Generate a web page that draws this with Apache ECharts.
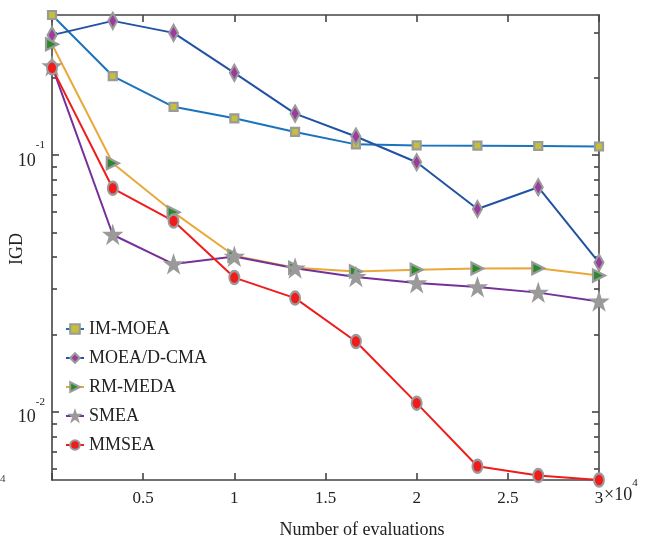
<!DOCTYPE html>
<html>
<head>
<meta charset="utf-8">
<script src="https://cdn.jsdelivr.net/npm/echarts@6/dist/echarts.min.js"></script>
<style>html,body{margin:0;padding:0;background:#fff}#c{width:648px;height:540px}</style>
</head>
<body>
<div id="c"></div>
<script>
const evaluations = [0, 3333, 6667, 10000, 13333, 16667, 20000, 23333, 26667, 30000];
const imMoea   = [0.351, 0.203, 0.154, 0.139, 0.123, 0.110, 0.109, 0.1087, 0.1084, 0.1079];
const moeadCma = [0.293, 0.333, 0.299, 0.209, 0.145, 0.118, 0.0937, 0.0616, 0.0749, 0.0381];
const rmMeda   = [0.270, 0.0928, 0.0598, 0.0405, 0.0364, 0.0352, 0.0357, 0.0361, 0.0362, 0.0339];
const smea     = [0.222, 0.0489, 0.0376, 0.0402, 0.0362, 0.0335, 0.0317, 0.0306, 0.0291, 0.0269];
const mmsea    = [0.2185, 0.0742, 0.0553, 0.0333, 0.0277, 0.01877, 0.0108, 0.00613, 0.00564, 0.00542];
const seriesNames = ['IM-MOEA', 'MOEA/D-CMA', 'RM-MEDA', 'SMEA', 'MMSEA'];
const yMajorTicks = [0.01, 0.1];
const yMinorTicks = [0.006, 0.007, 0.008, 0.009, 0.02, 0.03, 0.04, 0.05, 0.06, 0.07, 0.08, 0.09, 0.2, 0.3];
const yLabels = {0.01: '-2', 0.1: '-1'};
const xMin = 0, xMax = 30000, xStep = 5000;
const yMin = 0.00542, yMax = 0.351;

const FONT = "'Liberation Serif', 'Times New Roman', serif";
const AX = '#444';
const STAR = 'path://M50,0 L61.8,35.1 L98.8,35.1 L68.8,57 L80.2,92.1 L50,70.5 L19.8,92.1 L31.2,57 L1.2,35.1 L38.2,35.1 Z';

function pairs(ys) { return evaluations.map((x, i) => [x, ys[i]]); }

const lineAxisStyle = {show: true, lineStyle: {color: AX, width: 1.6}};
function yAx(pos, ticks, len, showLine, labels) {
  return {
    type: 'log', logBase: 10, position: pos, min: yMin, max: yMax,
    axisLine: showLine ? lineAxisStyle : {show: false},
    axisTick: {show: true, inside: true, length: len, customValues: ticks, lineStyle: {color: AX, width: 1.6}},
    axisLabel: labels ? {
      show: true, customValues: yMajorTicks, margin: 7, fontFamily: FONT,
      formatter: v => '{b|10}{s|' + (yLabels[v] || '') + '}',
      rich: {
        b: {fontSize: 18, fontFamily: FONT, color: '#222', lineHeight: 30, verticalAlign: 'bottom'},
        s: {fontSize: 11, fontFamily: FONT, color: '#222', lineHeight: 12, verticalAlign: 'top'}
      }
    } : {show: false},
    splitLine: {show: false}
  };
}
function xAx(pos, labels) {
  return {
    type: 'value', position: pos, min: xMin, max: xMax, interval: xStep,
    axisLine: lineAxisStyle,
    axisTick: {show: true, inside: true, length: 7, lineStyle: {color: AX, width: 1.6}},
    axisLabel: labels ? {
      show: true, margin: 10, fontFamily: FONT, fontSize: 17, color: '#222',
      formatter: v => v === 0 ? '' : String(v / 10000)
    } : {show: false},
    splitLine: {show: false}
  };
}

const styles = [
  {line: '#1a73bd', symbol: 'rect', size: 8, fill: '#c6bf3a', rot: 0},
  {line: '#2152a3', symbol: 'diamond', size: [9, 16], fill: '#9c3a9f', rot: 0},
  {line: '#e8a93a', symbol: 'triangle', size: [12, 12], fill: '#2a8a2a', rot: -90},
  {line: '#75309a', symbol: STAR, size: 15, fill: '#9a9a9a', rot: 0},
  {line: '#f01c1c', symbol: 'circle', size: [10, 13], fill: '#f01c1c', rot: 0}
];
const datasets = [imMoea, moeadCma, rmMeda, smea, mmsea];

const series = datasets.map((d, i) => ({
  name: seriesNames[i], type: 'line', data: pairs(d), clip: false,
  symbol: styles[i].symbol, symbolSize: styles[i].size, symbolRotate: styles[i].rot,
  showAllSymbol: true,
  lineStyle: {color: styles[i].line, width: 2},
  itemStyle: {color: styles[i].fill, borderColor: '#9a9a9a', borderWidth: 2.2},
  emphasis: {disabled: true}
}));

const chart = echarts.init(document.getElementById('c'), null, {renderer: 'canvas'});
chart.setOption({
  animation: false,
  backgroundColor: '#fff',
  grid: {left: 52, right: 49, top: 15, bottom: 60, containLabel: false, outerBoundsMode: 'none'},
  xAxis: [xAx('bottom', true), xAx('top', false)],
  yAxis: [
    yAx('left', yMajorTicks, 7, true, true),
    yAx('left', yMinorTicks, 5, false, false),
    yAx('right', yMajorTicks, 7, true, false),
    yAx('right', yMinorTicks, 5, false, false)
  ],
  legend: {
    orient: 'vertical', left: 65, top: 320, padding: 0, itemGap: 11,
    itemWidth: 18, itemHeight: 12,
    textStyle: {fontFamily: FONT, fontSize: 18, color: '#222', lineHeight: 18},
    data: seriesNames
  },
  series: series,
  graphic: [
    {type: 'text', left: 604, top: 478, silent: true, style: {
      text: '{a|×10}{s|4}', rich: {
        a: {fontSize: 18, fontFamily: FONT, fill: '#222', lineHeight: 26, verticalAlign: 'bottom'},
        s: {fontSize: 11, fontFamily: FONT, fill: '#222', lineHeight: 12, verticalAlign: 'top'}
      }}},
    {type: 'text', x: 362, y: 530, silent: true, style: {
      text: 'Number of evaluations', fontSize: 18, fontFamily: FONT, fill: '#222',
      align: 'center', verticalAlign: 'middle'}},
    {type: 'text', x: 17, y: 249, rotation: Math.PI / 2, silent: true, style: {
      text: 'IGD', fontSize: 18, fontFamily: FONT, fill: '#222',
      align: 'center', verticalAlign: 'middle'}},
    {type: 'text', x: 0, y: 474, silent: true, style: {
      text: '4', fontSize: 11, fontFamily: FONT, fill: '#444'}}
  ]
});
</script>
</body>
</html>
